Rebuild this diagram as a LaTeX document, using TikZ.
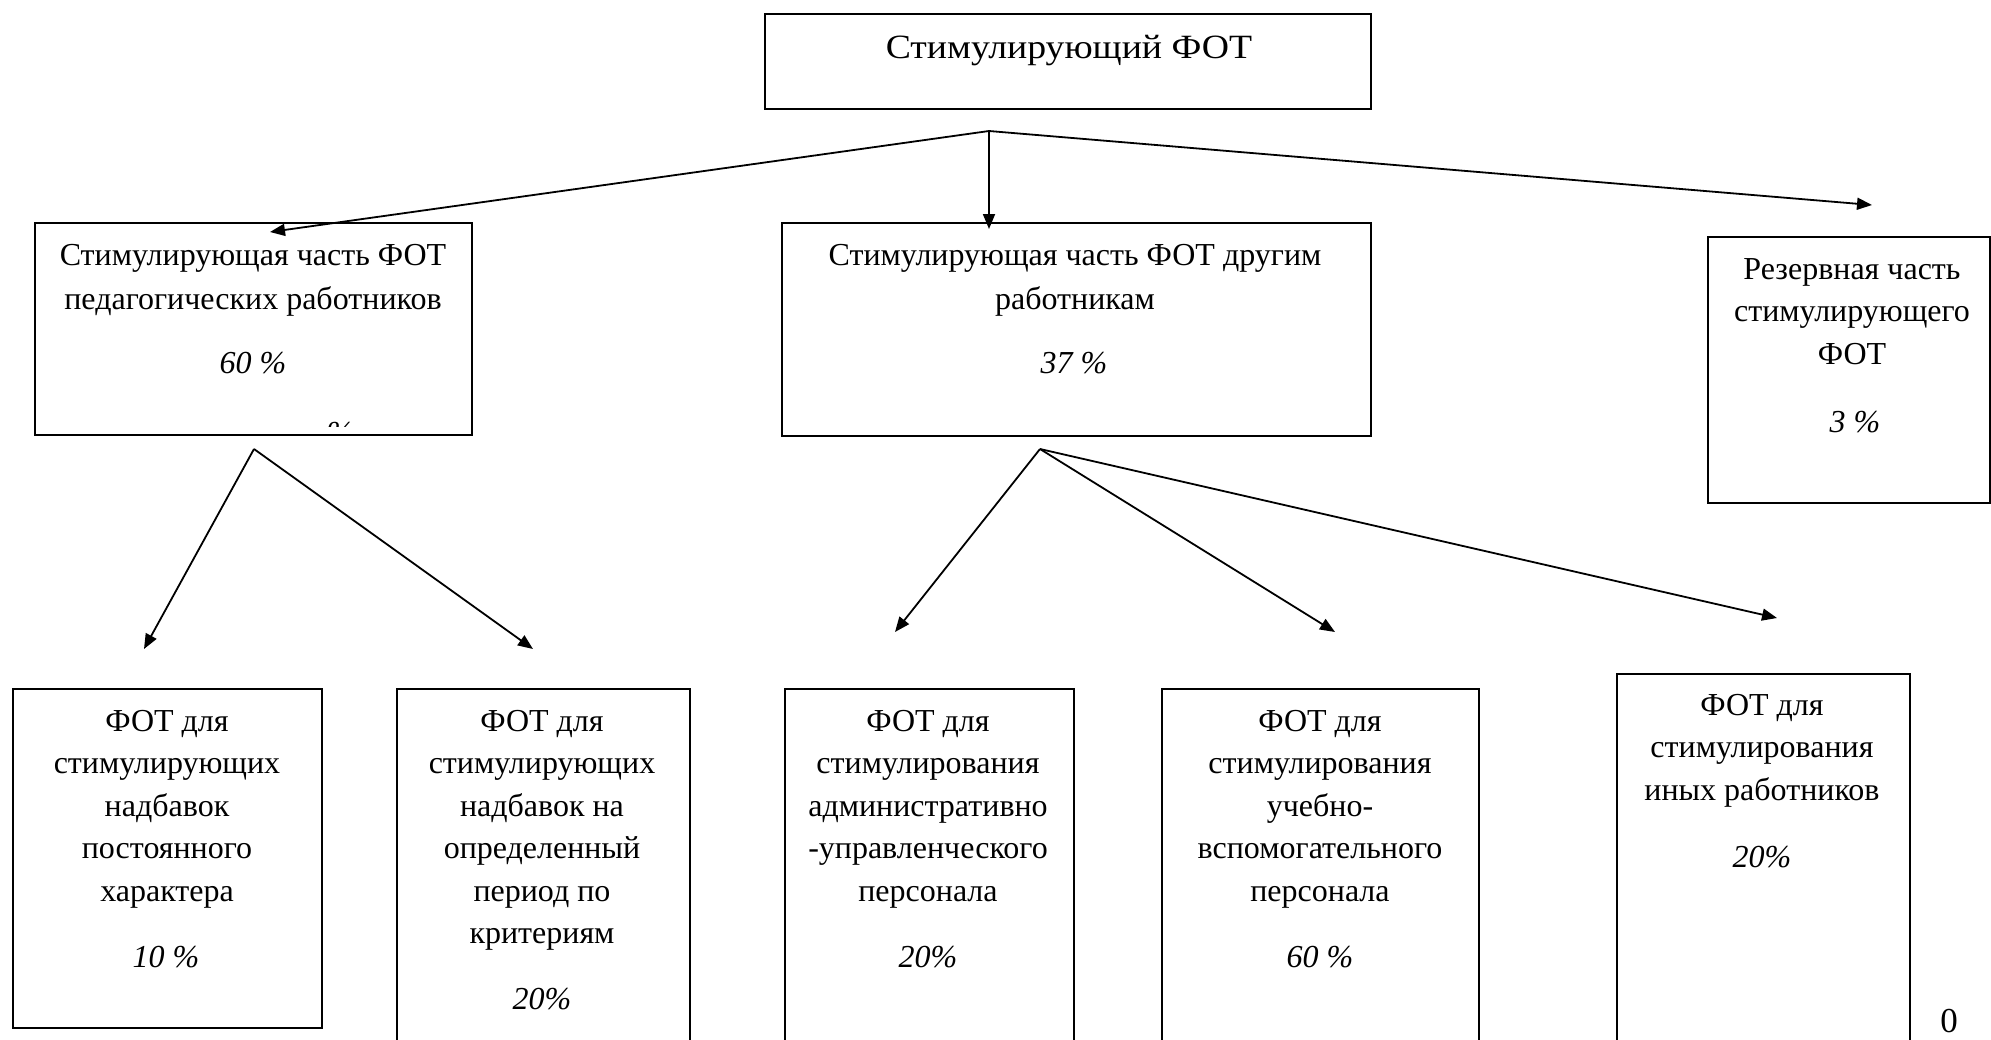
\documentclass[tikz,border=0pt]{standalone}
\usepackage{fontspec}
\setmainfont{Liberation Serif}
\usetikzlibrary{arrows.meta}
\newcommand\ml[1]{\begin{tabular}[t]{@{}c@{}}#1\end{tabular}}
\begin{document}
\begin{tikzpicture}[x=0.5pt,y=-0.5pt,
  box/.style={draw, line width=1.1pt, inner sep=0pt, anchor=north west},
  txt/.style={inner sep=0pt, anchor=base, font=\fontsize{16}{21.25}\selectfont},
  wtxt/.style={inner sep=0pt, anchor=base, font=\fontsize{16}{22.4}\selectfont},
  pct/.style={txt, font=\fontsize{16}{21.25}\selectfont\itshape},
  arr/.style={line width=0.9pt, -{Triangle[length=7.5pt,width=6pt]}}]
\useasboundingbox (0,0) rectangle (1991,1039);
\clip (0,0) rectangle (1991,1039);
\fill[white] (0,0) rectangle (1991,1039);

% boxes
\node[box, minimum width=303pt,   minimum height=47.5pt]  (T)  at (764,13)  {};
\node[box, minimum width=218.5pt, minimum height=106pt]   (L)  at (34,222)  {};
\node[box, minimum width=294.5pt, minimum height=106.5pt] (M)  at (781,222) {};
\node[box, minimum width=141pt,   minimum height=133pt]   (R)  at (1707,236) {};
\node[box, minimum width=154.5pt, minimum height=169.5pt] (B1) at (12,688)  {};
\node[box, minimum width=146.5pt, minimum height=191pt]   (B2) at (396,688) {};
\node[box, minimum width=144.5pt, minimum height=191pt]   (B3) at (784,688) {};
\node[box, minimum width=158.5pt, minimum height=191pt]   (B4) at (1161,688) {};
\node[box, minimum width=146.5pt, minimum height=198.5pt] (B5) at (1616,673) {};

% texts
\node[inner sep=0pt, anchor=base, font=\fontsize{17}{21}\selectfont] (tT) at (1069,58) {\scalebox{1.11}[1]{Стимулирующий ФОТ}};
\node[wtxt] (tL) at (253,265) {\ml{Стимулирующая часть ФОТ\\педагогических работников}};
\node[pct] (pL) at (253,373) {60 \%};
\begin{scope}
  \clip (300,414) rectangle (380,426.5);
  \node[pct] (art) at (340,443) {\%};
\end{scope}
\node[wtxt] (tM) at (1075,265) {\ml{Стимулирующая часть ФОТ другим\\работникам}};
\node[pct] (pM) at (1074,373) {37 \%};
\node[txt] (tR) at (1852,279) {\ml{Резервная часть\\стимулирующего\\ФОТ}};
\node[pct] (pR) at (1855,432) {3 \%};

\node[txt] (tB1) at (167,731) {\ml{ФОТ для\\стимулирующих\\надбавок\\постоянного\\характера}};
\node[pct] (pB1) at (166,967) {10 \%};
\node[txt] (tB2) at (542,731) {\ml{ФОТ для\\стимулирующих\\надбавок на\\определенный\\период по\\критериям}};
\node[pct] (pB2) at (542,1009) {20\%};
\node[txt] (tB3) at (928,731) {\ml{ФОТ для\\стимулирования\\административно\\-управленческого\\персонала}};
\node[pct] (pB3) at (928,967) {20\%};
\node[txt] (tB4) at (1320,731) {\ml{ФОТ для\\стимулирования\\учебно-\\вспомогательного\\персонала}};
\node[pct] (pB4) at (1320,967) {60 \%};
\node[txt] (tB5) at (1762,715) {\ml{ФОТ для\\стимулирования\\иных работников}};
\node[pct] (pB5) at (1762,867) {20\%};

\node[inner sep=0pt, anchor=base, font=\fontsize{17.5}{21}\selectfont] (pg) at (1949,1032) {0};

% connector points
\coordinate (s0) at (989,131);
\coordinate (s1) at (254,449);
\coordinate (s2) at (1040,449);
\coordinate (aL) at (270,232);
\coordinate (aM) at (989,229);
\coordinate (aR) at (1872,205);
\coordinate (a1) at (144,649);
\coordinate (a2) at (533,649);
\coordinate (a3) at (895,632);
\coordinate (a4) at (1335,632);
\coordinate (a5) at (1777,618);

\draw[arr] (s0) -- (aL);
\draw[arr] (s0) -- (aM);
\draw[arr] (s0) -- (aR);
\draw[arr] (s1) -- (a1);
\draw[arr] (s1) -- (a2);
\draw[arr] (s2) -- (a3);
\draw[arr] (s2) -- (a4);
\draw[arr] (s2) -- (a5);
\end{tikzpicture}
\end{document}
